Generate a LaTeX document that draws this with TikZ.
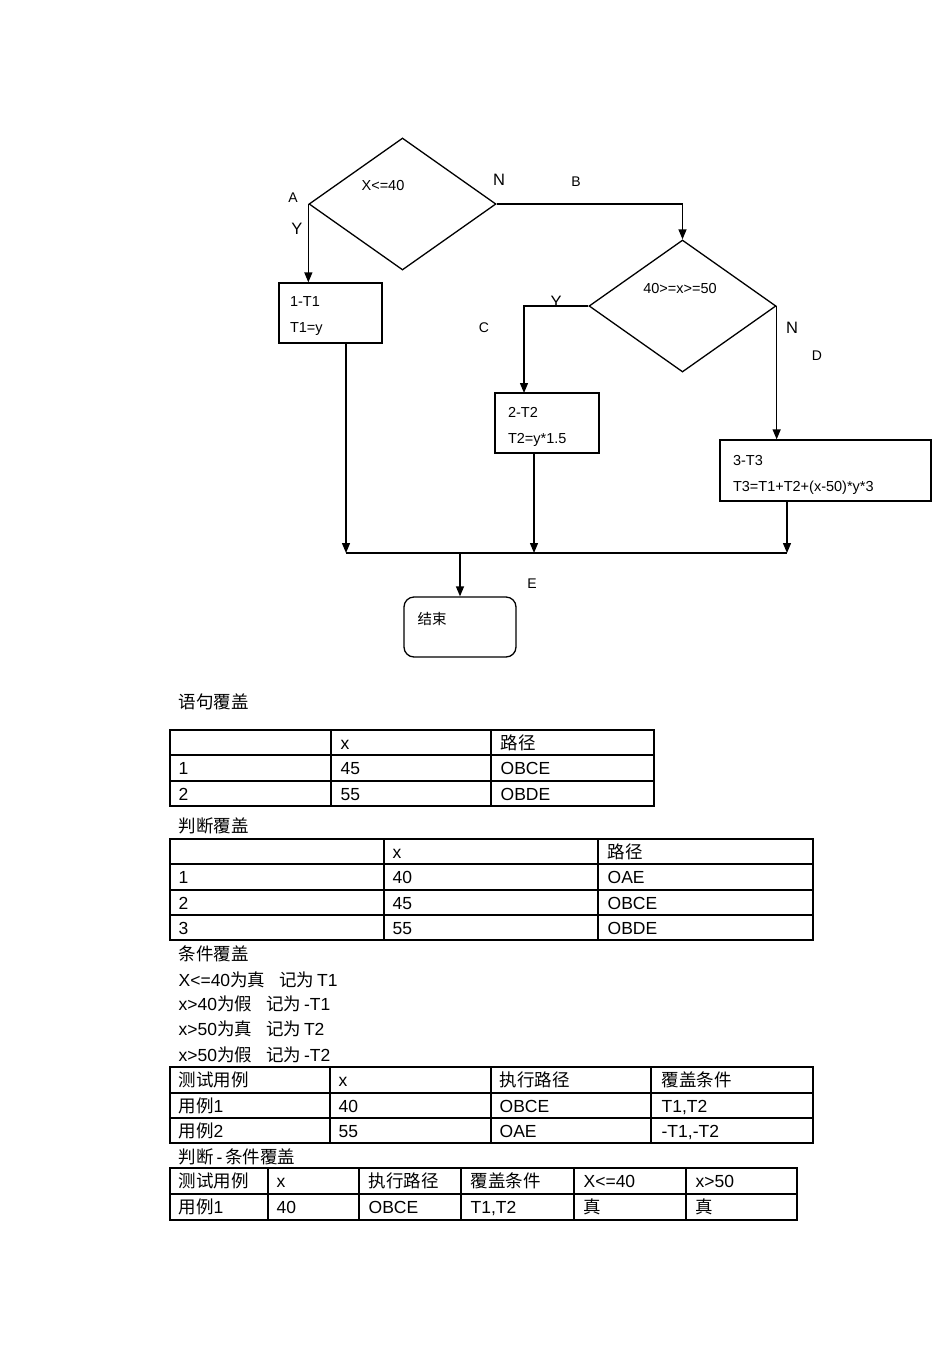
\documentclass[tikz,border=0pt]{standalone}
\usepackage{fontspec}
\setmainfont{Liberation Sans}
\newfontfamily\cjk{Noto Sans CJK SC}
\newcommand{\zh}[1]{{\cjk #1}}
\usetikzlibrary{arrows.meta,calc,shapes.geometric}
\begin{document}
\begin{tikzpicture}[x=1pt,y=-1pt,line width=1.3pt,
  arr/.style={-{Triangle[length=10pt,width=8pt]}},
  dia/.style={draw,diamond,inner sep=0pt,minimum width=187pt,minimum height=132pt},
  fbox/.style={draw,rectangle,align=left,inner ysep=0pt,font=\fontsize{14.5}{26}\selectfont},
  diatext/.style={inner sep=0pt,font=\fontsize{14.5}{17}\selectfont},
  small/.style={inner sep=0pt,font=\fontsize{14}{16}\selectfont},
  big/.style={inner sep=0pt,font=\fontsize{16.5}{19}\selectfont},
  cell/.style={anchor=base west,inner sep=0pt,font=\fontsize{17.5}{20}\selectfont},
  grid/.style={line width=1.2pt}]
\useasboundingbox (0,0) rectangle (950,1345);
\fill[white] (0,0) rectangle (950,1345);

% ---------- flowchart ----------
\node[dia] (d1) at (402.5,204) {};
\node[diatext] (t1) at (383,186) {X<=40};
\node[dia] (d2) at (682.5,306) {};
\node[diatext] (t2) at (680,289) {40>=x>=50};

\node[fbox,text width=81pt,inner xsep=11pt,minimum height=60pt] (b1) at (330.5,313) {\rule{0pt}{16.5pt}1-T1\\T1=y};
\node[fbox,text width=78pt,inner xsep=13pt,minimum height=60pt] (b2) at (547,423) {\rule{0pt}{18.5pt}2-T2\\T2=y*1.5};
\node[fbox,text width=185pt,inner xsep=13pt,minimum height=61pt] (b3) at (825.5,470.5) {\rule{0pt}{18.5pt}3-T3\\T3=T1+T2+(x-50)*y*3};
\node[draw,rectangle,rounded corners=10pt,minimum width=112pt,minimum height=60pt] (end) at (460,627) {};
\node[anchor=base west,inner sep=0pt,font=\fontsize{14.5}{17}\selectfont] (endt) at (417,624) {\zh{结束}};

\coordinate (busL) at (346,553);
\coordinate (busM) at (460,553);
\coordinate (b2x) at (534,553);
\coordinate (busR) at (787,553);
\coordinate (b2in) at (524,393);

\draw[arr] (d1.west) -- (d1.west |- b1.north);
\draw[arr] (d1.east) -| (d2.north);
\draw[arr] (d2.west) -| (b2in);
\draw[arr] (d2.east) -- (d2.east |- b3.north);
\draw[arr] (b1.south -| busL) -- (busL);
\draw[arr] (b2.south -| b2x) -- (b2x);
\draw[arr] (b3.south -| busR) -- (busR);
\draw (busL) -- (busR);
\draw[arr] (busM) -- (end.north);

\node[small] (lA) at (293,198) {A};
\node[big] (lY1) at (297,229) {Y};
\node[big] (lN1) at (499,180) {N};
\node[small] (lB) at (576,182) {B};
\node[big] (lY2) at (556,302) {Y};
\node[small] (lC) at (484,328) {C};
\node[big] (lN2) at (792,328) {N};
\node[small] (lD) at (817,356) {D};
\node[small] (lE) at (532,584) {E};

% ---------- text and tables ----------
\node[cell] (h1) at (178,708) {\zh{语句覆盖}};
\begin{scope}[grid]
\draw (170,730) rectangle (654,806);
\draw (170,755) -- (654,755) (170,781) -- (654,781);
\draw (331,730) -- (331,806) (491,730) -- (491,806);
\end{scope}
\node[cell] at (340,749) {x};
\node[cell] at (500,749) {\zh{路径}};
\node[cell] at (178,774) {1};
\node[cell] at (340,774) {45};
\node[cell] at (500,774) {OBCE};
\node[cell] at (178,800) {2};
\node[cell] at (340,800) {55};
\node[cell] at (500,800) {OBDE};

\node[cell] (h2) at (178,832) {\zh{判断覆盖}};
\begin{scope}[grid]
\draw (170,839) rectangle (813,940);
\draw (170,864) -- (813,864) (170,890) -- (813,890) (170,915) -- (813,915);
\draw (384,839) -- (384,940) (598,839) -- (598,940);
\end{scope}
\node[cell] at (392,858) {x};
\node[cell] at (607,858) {\zh{路径}};
\node[cell] at (178,883) {1};
\node[cell] at (392,883) {40};
\node[cell] at (607,883) {OAE};
\node[cell] at (178,909) {2};
\node[cell] at (392,909) {45};
\node[cell] at (607,909) {OBCE};
\node[cell] at (178,934) {3};
\node[cell] at (392,934) {55};
\node[cell] at (607,934) {OBDE};

\node[cell] (h3) at (178,960) {\zh{条件覆盖}};
\node[cell] (c1) at (178,986) {X<=40\zh{为真}\hspace{0.8em}\zh{记为}\,T1};
\node[cell] (c2) at (178,1010) {x>40\zh{为假}\hspace{0.8em}\zh{记为}\,-T1};
\node[cell] (c3) at (178,1035) {x>50\zh{为真}\hspace{0.8em}\zh{记为}\,T2};
\node[cell] (c4) at (178,1061) {x>50\zh{为假}\hspace{0.8em}\zh{记为}\,-T2};

\begin{scope}[grid]
\draw (170,1067) rectangle (813,1143);
\draw (170,1093) -- (813,1093) (170,1118) -- (813,1118);
\draw (330,1067) -- (330,1143) (491,1067) -- (491,1143) (651,1067) -- (651,1143);
\end{scope}
\node[cell] at (178,1086) {\zh{测试用例}};
\node[cell] at (338,1086) {x};
\node[cell] at (499,1086) {\zh{执行路径}};
\node[cell] at (661,1086) {\zh{覆盖条件}};
\node[cell] at (178,1112) {\zh{用例}1};
\node[cell] at (338,1112) {40};
\node[cell] at (499,1112) {OBCE};
\node[cell] at (661,1112) {T1,T2};
\node[cell] at (178,1137) {\zh{用例}2};
\node[cell] at (338,1137) {55};
\node[cell] at (499,1137) {OAE};
\node[cell] at (661,1137) {-T1,-T2};

\node[cell] (h4) at (178,1163) {\zh{判断}\,-\,\zh{条件覆盖}};
\begin{scope}[grid]
\draw (170,1168) rectangle (797,1220);
\draw (170,1194) -- (797,1194);
\draw (268,1168) -- (268,1220) (359,1168) -- (359,1220) (461,1168) -- (461,1220)
      (574,1168) -- (574,1220) (686,1168) -- (686,1220);
\end{scope}
\node[cell] at (178,1187) {\zh{测试用例}};
\node[cell] at (276,1187) {x};
\node[cell] at (368,1187) {\zh{执行路径}};
\node[cell] at (470,1187) {\zh{覆盖条件}};
\node[cell] at (583,1187) {X<=40};
\node[cell] at (695,1187) {x>50};
\node[cell] at (178,1213) {\zh{用例}1};
\node[cell] at (276,1213) {40};
\node[cell] at (368,1213) {OBCE};
\node[cell] at (470,1213) {T1,T2};
\node[cell] at (583,1213) {\zh{真}};
\node[cell] at (695,1213) {\zh{真}};
\end{tikzpicture}
\end{document}
